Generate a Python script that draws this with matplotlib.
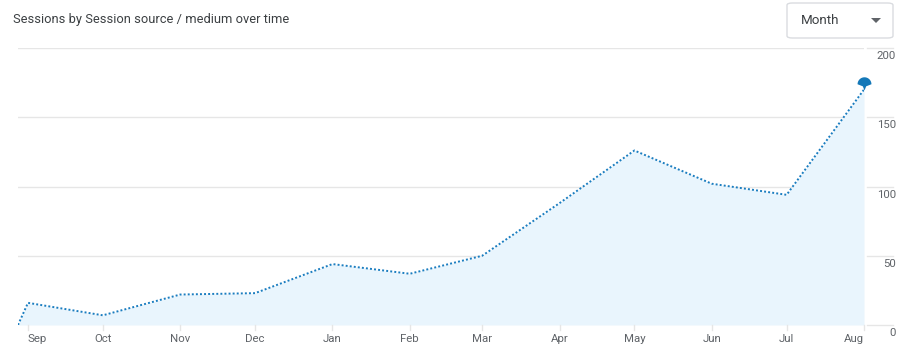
import matplotlib
matplotlib.use("Agg")
import matplotlib.pyplot as plt
import matplotlib.dates as mdates
from matplotlib.path import Path
from matplotlib.patches import FancyBboxPatch, Polygon
from matplotlib.lines import Line2D
import numpy as np
import datetime as dt

plt.rcParams['font.family'] = ['Roboto', 'DejaVu Sans']

# ---- data ----
dates = ["2023-08-28", "2023-09-01", "2023-10-01", "2023-11-01", "2023-12-01",
         "2024-01-01", "2024-02-01", "2024-03-01", "2024-04-01", "2024-05-01",
         "2024-06-01", "2024-07-01", "2024-08-01"]
sessions = [0, 16, 7, 22, 23, 44, 37, 50, 88, 126, 102, 94, 170]
tick_dates = ["2023-09-01", "2023-10-01", "2023-11-01", "2023-12-01", "2024-01-01",
              "2024-02-01", "2024-03-01", "2024-04-01", "2024-05-01", "2024-06-01",
              "2024-07-01", "2024-08-01"]
tick_labels = ["Sep", "Oct", "Nov", "Dec", "Jan", "Feb", "Mar", "Apr", "May",
               "Jun", "Jul", "Aug"]
y_ticks = [0, 50, 100, 150, 200]
title = "Sessions by Session source / medium over time"
dropdown = "Month"

W, H = 904, 355
fig = plt.figure(figsize=(W / 100, H / 100), dpi=100)
fig.patch.set_facecolor("white")

x = [mdates.date2num(dt.date.fromisoformat(d)) for d in dates]
xt = [mdates.date2num(dt.date.fromisoformat(d)) for d in tick_dates]

L, R, B, T = 18, 864, 325, 48
ax = fig.add_axes([L / W, 1 - B / H, (R - L) / W, (B - T) / H])
ax.set_xlim(x[0], xt[-1])
ax.set_ylim(0, 200)
for s in ax.spines.values():
    s.set_visible(False)
ax.set_yticks([])
ax.set_xticks([])

grid_c = "#e6e6e6"
for v in y_ticks:
    ax.axhline(v, color=grid_c, lw=1.0, zorder=0)

line_c = "#1a7dc0"
ax.fill_between(x, sessions, 0, color="#e9f5fd", lw=0, zorder=1)
ax.plot(x, sessions, color=line_c, lw=1.4, ls=(0, (1, 1.1)), zorder=3,
        solid_capstyle="butt", dash_capstyle="butt")

# pin marker at last point (tip at data point): umbrella dome + narrow stem
theta = np.linspace(np.pi, 0, 24)
arc = [(0.5 * np.cos(t), 0.45 + 0.5 * np.sin(t)) for t in theta]
verts = [(-0.12, 0.3), (-0.5, 0.45)] + arc + [(0.5, 0.45), (0.12, 0.3), (0.0, 0.0), (-0.12, 0.3)]
codes = [Path.MOVETO] + [Path.LINETO] * (len(verts) - 2) + [Path.CLOSEPOLY]
pin = Path(verts, codes)
ax.plot([x[-1]], [sessions[-1]], marker=pin, markersize=19, color="#1478b8",
        markeredgewidth=0, zorder=5, clip_on=False)

# y tick labels and right grid stubs
tc = "#5f6368"
for v in y_ticks:
    yp = B - (B - T) * v / 200
    fig.add_artist(Line2D([867 / W, 893 / W], [1 - yp / H, 1 - yp / H],
                          color=grid_c, lw=1.0))
    fig.text(896 / W, 1 - (yp + 8) / H, str(v), ha="right", va="center",
             fontsize=8.2, color=tc)

# x ticks
for i, (xv, lab) in enumerate(zip(xt, tick_labels)):
    px = ax.transData.transform((xv, 0))[0]
    fig.add_artist(Line2D([px / W] * 2, [1 - 325 / H, 1 - 330 / H],
                          color=grid_c, lw=1.0))
    ha = "center"
    if i == 0:
        ha = "left"
    elif i == len(xt) - 1:
        ha = "right"
    fig.text(px / W, 1 - 339 / H, lab, ha=ha, va="center", fontsize=8.2, color=tc)

# title
fig.text(13 / W, 1 - 20 / H, title, ha="left", va="center", fontsize=9.3,
         color="#3c4043")

# dropdown
box = FancyBboxPatch((787 / W, 1 - 38 / H), 106 / W, 35 / H,
                     boxstyle="round,pad=0,rounding_size=0.006",
                     transform=fig.transFigure, facecolor="white",
                     edgecolor="#dadce0", lw=1.0)
fig.add_artist(box)
fig.text(801 / W, 1 - 20 / H, dropdown, ha="left", va="center", fontsize=9.6,
         color="#3c4043")
tri = Polygon([[871 / W, 1 - 18 / H], [881 / W, 1 - 18 / H], [876 / W, 1 - 23 / H]],
              closed=True, transform=fig.transFigure, facecolor="#5f6368",
              edgecolor="none")
fig.add_artist(tri)

fig.savefig("out.png", dpi=100, facecolor="white")
